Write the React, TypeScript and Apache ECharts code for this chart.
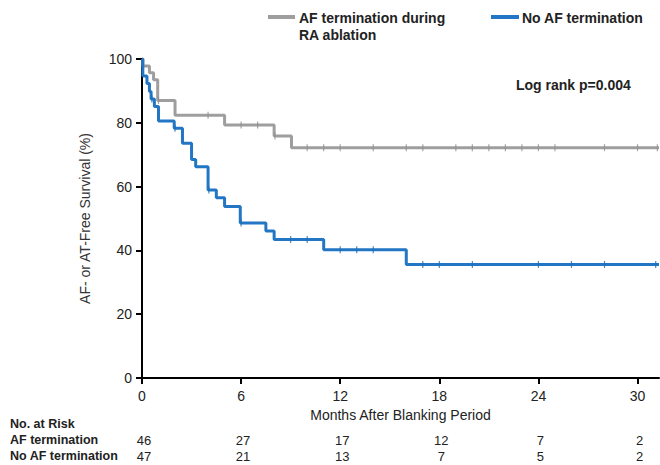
import React, { useEffect, useRef } from "react";
import * as echarts from "echarts";

// Kaplan-Meier step data (months, survival %)
const afTimes = [0, 0.05, 0.45, 0.7, 0.95, 2.0, 5.0, 8.0, 9.05, 31.3];
const afSurv = [100, 97.8, 95.7, 93.5, 87.0, 82.4, 79.3, 75.9, 72.2, 72.2];
const afCensorTimes = [1.0, 4.0, 6.0, 7.0, 8.05, 10, 11, 12, 14, 16, 17, 19, 20, 21, 22, 23, 24, 25, 28, 30, 31.2];

const noTimes = [0, 0.05, 0.3, 0.45, 0.55, 0.75, 1.0, 1.95, 2.45, 3.0, 3.25, 4.0, 4.5, 5.0, 5.95, 7.5, 8.0, 11.0, 16.0, 31.3];
const noSurv = [100, 94.7, 92.3, 89.8, 87.5, 85.1, 80.6, 78.3, 73.6, 68.5, 66.2, 58.9, 56.5, 53.8, 48.6, 46.1, 43.4, 40.2, 35.6, 35.6];
const noCensorTimes = [0.6, 2.0, 4.05, 6.0, 9, 10, 12, 13, 14, 17, 18, 20, 24, 26, 28, 31.1];

const riskTimes = [0, 6, 12, 18, 24, 30];
const riskAF = [46, 27, 17, 12, 7, 2];
const riskNoAF = [47, 21, 13, 7, 5, 2];

const xTicks = [0, 6, 12, 18, 24, 30];
const yTicks = [0, 20, 40, 60, 80, 100];

const GRAY = "#9e9e9e";
const BLUE = "#2276c3";
const FONT = "'Liberation Sans', Arial, Helvetica, sans-serif";
const TEXT = "#222";

function survAt(times: number[], surv: number[], t: number) {
  let v = surv[0];
  for (let i = 0; i < times.length; i++) {
    if (times[i] <= t) v = surv[i];
  }
  return v;
}

export default function App() {
  const ref = useRef<HTMLDivElement>(null);
  useEffect(() => {
    if (!ref.current) return;
    const chart = echarts.init(ref.current, null, { renderer: "svg" });
    const afLine = afTimes.map((t, i) => [t, afSurv[i]]);
    const noLine = noTimes.map((t, i) => [t, noSurv[i]]);
    const afCens = afCensorTimes.map((t) => [t, survAt(afTimes, afSurv, t)]);
    const noCens = noCensorTimes.map((t) => [t, survAt(noTimes, noSurv, t)]);

    chart.setOption({
      animation: false,
      textStyle: { fontFamily: FONT },
      grid: { left: 142, right: 1, top: 59, bottom: 87, containLabel: false },
      xAxis: {
        type: "value",
        min: 0,
        max: 31.3,
        interval: 6,
        name: "Months After Blanking Period",
        nameLocation: "middle",
        nameGap: 25,
        nameTextStyle: { fontSize: 14, color: TEXT, fontFamily: FONT },
        axisLine: { show: true, lineStyle: { color: "#000", width: 2 } },
        axisTick: { show: true, length: 6, lineStyle: { color: "#000", width: 2 } },
        axisLabel: {
          fontSize: 14,
          color: TEXT,
          margin: 11,
          fontFamily: FONT,
          showMaxLabel: false,
          formatter: (v: number) => (xTicks.includes(v) ? String(v) : ""),
        },
        splitLine: { show: false },
      },
      yAxis: {
        type: "value",
        min: 0,
        max: 100,
        interval: 20,
        name: "AF- or AT-Free Survival (%)",
        nameLocation: "middle",
        nameGap: 50,
        nameTextStyle: { fontSize: 14, color: "#333", fontFamily: FONT },
        axisLine: { show: true, lineStyle: { color: "#000", width: 2 } },
        axisTick: { show: true, length: 6, lineStyle: { color: "#000", width: 2 } },
        axisLabel: {
          fontSize: 14,
          color: TEXT,
          margin: 10,
          fontFamily: FONT,
          formatter: (v: number) => (yTicks.includes(v) ? String(v) : ""),
        },
        splitLine: { show: false },
      },
      series: [
        {
          type: "line",
          name: "AF termination during RA ablation",
          step: "end",
          data: afLine,
          showSymbol: false,
          symbol: "none",
          lineStyle: { color: GRAY, width: 3 },
          z: 2,
        },
        {
          type: "line",
          name: "No AF termination",
          step: "end",
          data: noLine,
          showSymbol: false,
          symbol: "none",
          lineStyle: { color: BLUE, width: 3 },
          z: 3,
        },
        {
          type: "scatter",
          data: afCens,
          symbol: "rect",
          symbolSize: [1.2, 7],
          itemStyle: { color: "#8f8f8f" },
          z: 4,
        },
        {
          type: "scatter",
          data: noCens,
          symbol: "rect",
          symbolSize: [1.2, 7],
          itemStyle: { color: "#1d6cb5" },
          z: 5,
        },
      ],
    });

    const bold = { fontFamily: FONT, fontSize: 14, fontWeight: "bold", fill: TEXT };
    const normal = { fontFamily: FONT, fontSize: 13, fill: TEXT };
    const graphics: any[] = [
      { type: "rect", shape: { x: 268, y: 15, width: 27, height: 4 }, style: { fill: GRAY } },
      { type: "text", x: 299, y: 18, style: { ...bold, text: "AF termination during", verticalAlign: "middle" } },
      { type: "text", x: 299, y: 35, style: { ...bold, text: "RA ablation", verticalAlign: "middle" } },
      { type: "rect", shape: { x: 491, y: 15, width: 28, height: 4 }, style: { fill: BLUE } },
      { type: "text", x: 522, y: 18, style: { ...bold, text: "No AF termination", verticalAlign: "middle" } },
      { type: "text", x: 516, y: 85, style: { ...bold, text: "Log rank p=0.004", verticalAlign: "middle" } },
      { type: "text", x: 10, y: 424, style: { ...bold, fontSize: 12.5, text: "No. at Risk", verticalAlign: "middle" } },
      { type: "text", x: 10, y: 440, style: { ...bold, fontSize: 12.5, text: "AF termination", verticalAlign: "middle" } },
      { type: "text", x: 10, y: 456, style: { ...bold, fontSize: 12.5, text: "No AF termination", verticalAlign: "middle" } },
    ];
    riskTimes.forEach((t, i) => {
      const px = chart.convertToPixel({ xAxisIndex: 0 }, t) as number;
      graphics.push({
        type: "text",
        x: px + 2,
        y: 440,
        style: { ...normal, text: String(riskAF[i]), align: "center", verticalAlign: "middle" },
      });
      graphics.push({
        type: "text",
        x: px + 2,
        y: 456,
        style: { ...normal, text: String(riskNoAF[i]), align: "center", verticalAlign: "middle" },
      });
    });
    chart.setOption({ graphic: graphics });

    return () => chart.dispose();
  }, []);
  return (
    <div
      ref={ref}
      style={{ position: "fixed", left: 0, top: 0, width: 660, height: 465, background: "#fff" }}
    />
  );
}
